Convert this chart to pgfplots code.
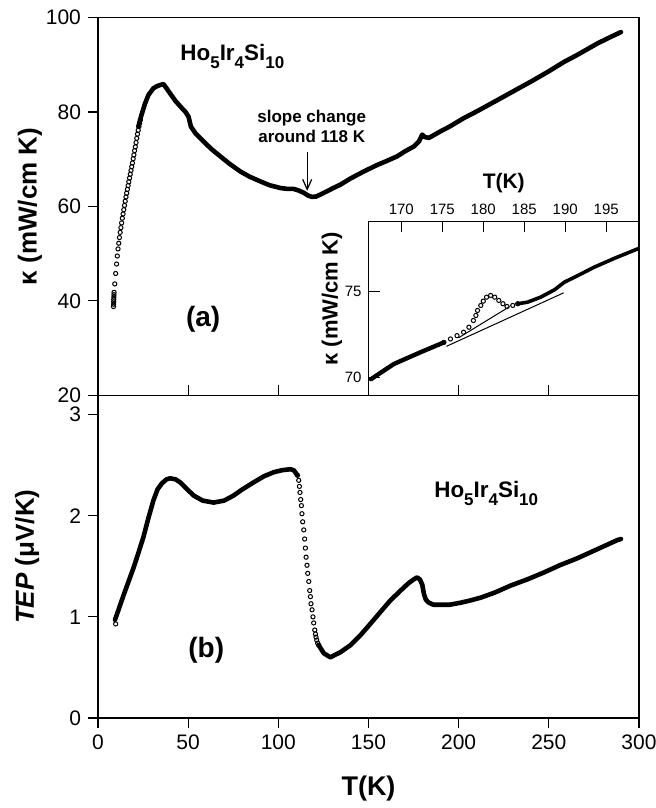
\documentclass[border=0pt]{standalone}
\usepackage{fontspec}
\setmainfont{Liberation Sans}
\usepackage{pgfplots}
\pgfplotsset{compat=1.18}
\usetikzlibrary{arrows.meta}
\newcommand\sub[1]{\raisebox{-4pt}{\fontsize{8.5}{10}\selectfont #1}}

\pgfplotstableread{
T k
22.4 76.9
24 79.2
26.1 81.8
28 83.6
30.7 85.0
33 85.5
36.3 85.9
38 85.0
40 83.9
43 82.3
46.5 80.8
48.5 80.0
50.2 79.0
51.5 76.9
54 75.5
58.5 73.75
63 72.1
67.8 70.6
73 69.0
78.9 67.4
84 66.3
90 65.3
95 64.5
101.1 63.9
105 63.7
108.5 63.7
111 63.4
114 62.9
116.5 62.3
118.7 62.0
121 62.1
123.3 62.5
127 63.2
130 63.8
134.4 64.6
140 65.9
147.4 67.4
155 68.8
160 69.6
165.9 70.6
170 71.6
175.2 72.7
178 73.75
179.8 75.2
181 74.7
183.5 74.5
190 75.9
195 76.9
202.9 78.7
210 80.1
221.5 82.5
230 84.3
240 86.4
250 88.6
258.5 90.6
265 91.9
277 94.5
285 96.0
290 96.9
}\kappadense

\pgfplotstableread{
T k
8.6 38.8
8.65 39.3
8.7 39.8
8.75 40.3
8.8 40.8
8.85 41.3
8.9 41.8
9.3 43.6
9.8 45.8
10.3 47.8
10.7 49.5
11.1 51.0
11.5 52.2
11.9 53.4
12.3 54.5
12.7 55.5
13.1 56.5
13.5 57.5
13.9 58.4
14.3 59.3
14.7 60.2
15.1 61.1
15.5 62.0
15.9 62.8
16.3 63.6
16.7 64.4
17.1 65.2
17.5 66.0
17.9 66.8
18.3 67.6
18.7 68.4
19.1 69.2
19.5 70.1
19.9 70.9
20.3 71.8
20.7 72.6
21.1 73.5
21.5 74.4
21.9 75.3
22.3 76.1
22.7 76.9
23.1 77.6
23.5 78.3
}\kappacirc

\pgfplotstableread{
T s
9.4 0.97
10.4 1.02
14.1 1.21
19.6 1.48
22 1.61
25.2 1.79
28 1.98
30.7 2.15
33 2.26
35.4 2.32
38 2.36
40 2.37
43 2.36
45.6 2.33
49 2.27
53 2.20
58 2.15
64.1 2.13
70 2.15
75.2 2.20
80 2.26
86.3 2.33
92 2.39
97.4 2.43
102 2.45
106.7 2.46
108.5 2.45
109.4 2.43
110.6 2.40
}\teplow

\pgfplotstableread{
T s
122.4 0.72
125.2 0.64
128.9 0.60
131 0.62
134.4 0.65
140 0.72
145.6 0.82
150 0.91
156.7 1.05
162 1.16
167.8 1.26
172 1.33
175 1.37
177 1.39
178.5 1.37
179.8 1.32
180.7 1.23
181.8 1.17
183.5 1.14
186 1.12
190 1.12
195 1.12
201.1 1.14
206 1.16
212.2 1.19
220 1.24
228.9 1.31
238 1.37
247.4 1.44
256 1.51
265.9 1.58
277 1.67
288.1 1.76
290 1.77
}\tephigh

\pgfplotstableread{
T s
9.8 0.93
110.6 2.40
111.3 2.35
111.7 2.29
112.0 2.23
112.4 2.16
112.8 2.10
113.1 2.02
113.5 1.94
114.1 1.86
114.6 1.77
115.0 1.68
115.4 1.59
115.9 1.51
116.3 1.43
116.9 1.35
117.4 1.26
117.8 1.20
118.1 1.13
118.7 1.07
119.2 1.00
119.6 0.94
120.2 0.87
120.6 0.83
120.9 0.80
121.3 0.77
121.8 0.74
122.4 0.72
}\tepcirc

\pgfplotstableread{
T k
166.3 69.9
169.1 70.78
172.3 71.45
175.2 72.03
}\insetA

\pgfplotstableread{
T k
175.2 72.03
176.0 72.23
176.8 72.42
177.6 72.62
178.25 72.91
178.8 73.30
179.1 73.59
179.3 73.88
179.7 74.17
180.0 74.42
180.4 74.65
180.9 74.75
181.4 74.65
181.9 74.46
182.4 74.27
182.9 74.11
183.6 74.17
184.2 74.27
}\insetB

\pgfplotstableread{
T k
184.2 74.27
185.4 74.36
187.0 74.65
188.7 75.08
189.9 75.52
191.1 75.8
193.6 76.4
196.0 76.9
198.9 77.46
}\insetC

\begin{document}
\begin{tikzpicture}
\useasboundingbox (-49pt,-45pt) rectangle (278.5pt,359pt);
\pgfplotsset{
  every axis/.append style={
    scale only axis,
    axis line style={line width=0.6pt},
    every tick/.style={line width=0.6pt, black},
    major tick length=5pt,
    tick label style={font=\fontsize{10.5}{12}\selectfont},
    /pgf/number format/assume math mode=true,
  },
}
% ---------------- bottom panel (b)
\begin{axis}[
  at={(0pt,0pt)}, anchor=south west,
  width=270.5pt, height=161.3pt,
  xmin=0, xmax=300, ymin=0, ymax=3.19,
  xtick={0,50,...,300}, ytick={0,1,2,3},
  tick align=outside, xtick pos=both, ytick pos=left, xticklabel pos=lower,
  xlabel={T(K)},
  xlabel style={font=\bfseries\fontsize{13.5}{15}\selectfont, at={(axis description cs:0.5,-0.218)}, anchor=center},
  ylabel={\textbf{\textit{TEP}} \textbf{(μV/K)}},
  ylabel style={font=\fontsize{13}{15}\selectfont, at={(axis description cs:-0.131,0.5)}, anchor=center},
]
\addplot[black, line width=2.3pt, line join=round, line cap=round] table[x=T,y=s] {\teplow};
\addplot[black, line width=2.3pt, line join=round, line cap=round] table[x=T,y=s] {\tephigh};
\addplot[only marks, mark=o, mark size=1.05pt, mark options={line width=0.5pt, black}] table[x=T,y=s] {\tepcirc};
\node[font=\bfseries\fontsize{11.2}{13}\selectfont, anchor=base west] at (axis cs:182.6,2.18) {Ho\sub{5}Ir\sub{4}Si\sub{10}};
\node[font=\bfseries\fontsize{14}{16}\selectfont] at (axis cs:60,0.67) {(b)};
\end{axis}

% ---------------- top panel (a)
\begin{axis}[
  at={(0pt,161.3pt)}, anchor=south west,
  width=270.5pt, height=189pt,
  xmin=0, xmax=300, ymin=20, ymax=100,
  xtick=\empty, ytick={20,40,...,100},
  tick align=outside, ytick pos=left,
  ylabel={κ (mW/cm K)},
  ylabel style={font=\bfseries\fontsize{13}{15}\selectfont, at={(axis description cs:-0.1257,0.5)}, anchor=center},
]
\addplot[black, line width=2.3pt, line join=round, line cap=round] table[x=T,y=k] {\kappadense};
\addplot[only marks, mark=o, mark size=1.05pt, mark options={line width=0.5pt, black}] table[x=T,y=k] {\kappacirc};
\node[font=\bfseries\fontsize{11.2}{13}\selectfont, anchor=base west] at (axis cs:41.8,90.9) {Ho\sub{5}Ir\sub{4}Si\sub{10}};
\node[font=\bfseries\fontsize{14}{16}\selectfont] at (axis cs:58.3,36.2) {(a)};
\node[font=\bfseries\fontsize{8.5}{10}\selectfont, align=center, anchor=south] at (axis cs:118.5,72.0) {slope change\\around 118 K};
\draw[-{Straight Barb[length=5pt,width=4.5pt]}, line width=0.6pt] (axis cs:116,71.6) -- (axis cs:116,63.3);
\end{axis}

% ---------------- inset
\begin{axis}[
  at={(135.25pt,161.3pt)}, anchor=south west,
  width=135.25pt, height=87pt,
  xmin=166, xmax=199, ymin=68.96, ymax=79.04,
  xtick={170,175,...,195}, ytick={70,75},
  tick align=inside, major tick length=5.5pt,
  xtick pos=upper, xticklabel pos=upper, ytick pos=left,
  tick label style={font=\fontsize{7.5}{9}\selectfont},
  xlabel={T(K)},
  xlabel style={font=\bfseries\fontsize{10.5}{12}\selectfont, at={(axis description cs:0.5,1.22)}, anchor=center},
  ylabel={κ (mW/cm K)},
  ylabel style={font=\bfseries\fontsize{11}{13}\selectfont, at={(axis description cs:-0.135,0.555)}, anchor=center},
]
\addplot[black, line width=0.5pt] coordinates {(175.5,71.8) (189.8,74.9)};
\addplot[black, line width=0.5pt] coordinates {(177,72.3) (183.2,74.1)};
\addplot[black, line width=2.2pt, line join=round, line cap=round] table[x=T,y=k] {\insetA};
\addplot[black, line width=1.8pt, line join=round, line cap=round] table[x=T,y=k] {\insetC};
\addplot[only marks, mark=o, mark size=1.05pt, mark options={line width=0.5pt, black}] table[x=T,y=k] {\insetB};
\end{axis}
\end{tikzpicture}
\end{document}
